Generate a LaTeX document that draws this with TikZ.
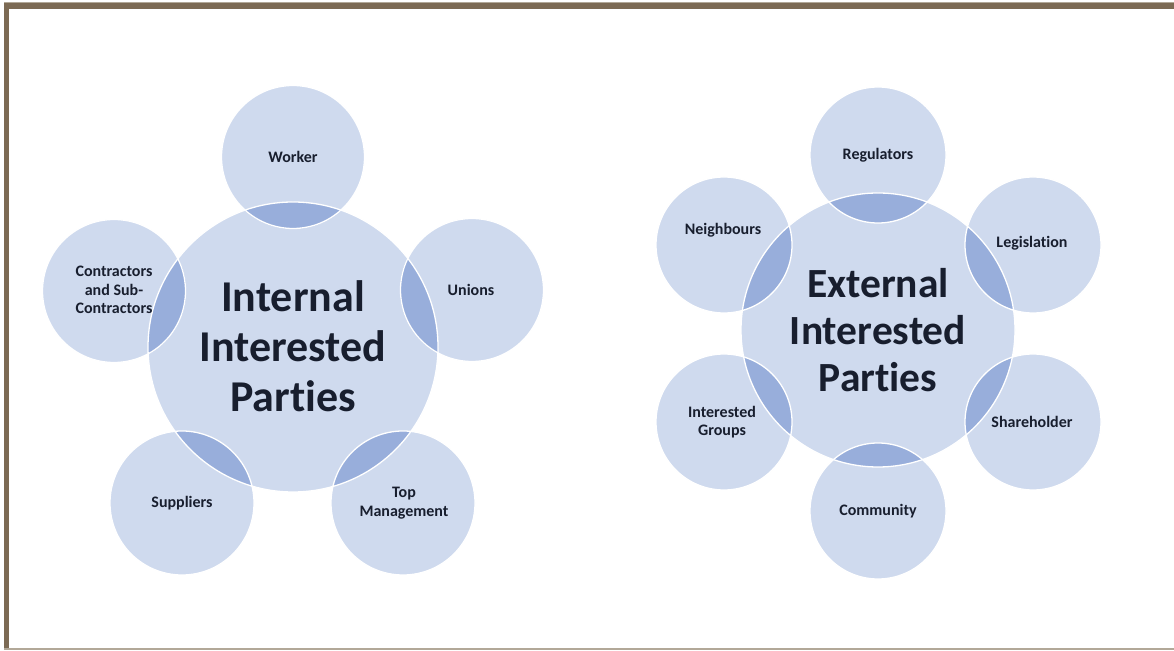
\documentclass[tikz,border=0pt]{standalone}
\usepackage{fontspec}
\setmainfont{Carlito}[Ligatures=CommonOff]
\definecolor{lightc}{RGB}{207,218,238}
\definecolor{darkc}{RGB}{152,174,219}
\definecolor{framec}{RGB}{124,106,84}
\definecolor{framel}{RGB}{178,168,152}
\definecolor{txtc}{RGB}{24,30,46}
\tikzset{
  rim/.style={draw=white, line width=1.3pt},
  small/.style={font=\bfseries\fontsize{16}{18.5}\selectfont, text=txtc, align=center, inner sep=0pt},
  bigI/.style={font=\bfseries\fontsize{44}{50}\selectfont, text=txtc, align=center, inner sep=0pt},
  bigE/.style={font=\bfseries\fontsize{41.5}{47}\selectfont, text=txtc, align=center, inner sep=0pt},
}
\begin{document}
\begin{tikzpicture}[x=1pt,y=1pt]
\useasboundingbox (0,0) rectangle (1174,650);
\fill[white] (0,0) rectangle (1174,650);
% frame
\fill[framel] (4,647) rectangle (1174,648);
\fill[framec] (4,641) rectangle (1174,647);
\fill[framec] (4,2) rectangle (9,647);
\fill[framel] (4,0) rectangle (1174,2);

% ---------- Internal ----------
\coordinate (ic) at (293,303);
\coordinate (wc) at (293,493);
\coordinate (uc) at (472,360);
\coordinate (cc) at (114,359);
\coordinate (sc) at (182,147);
\coordinate (tc) at (403,147);
\foreach \p/\r in {ic/145,wc/71.5,uc/71.5,cc/71.5,sc/72,tc/72}
  \fill[lightc] (\p) circle (\r);
\begin{scope}
  \clip (ic) circle (145);
  \foreach \p in {wc,uc,cc,sc,tc} \fill[darkc] (\p) circle (72);
\end{scope}
\foreach \p/\r in {ic/145,wc/71.5,uc/71.5,cc/71.5,sc/72,tc/72}
  \draw[rim] (\p) circle (\r);

% ---------- External ----------
\coordinate (ec) at (878,320);
\coordinate (rc) at (878,495);
\coordinate (lc) at (1033,405);
\coordinate (hc) at (1033,228);
\coordinate (mc) at (878,139);
\coordinate (gc) at (724,228);
\coordinate (nc) at (724,405);
\foreach \p/\r in {ec/137,rc/68,lc/68,hc/68,mc/68,gc/68,nc/68}
  \fill[lightc] (\p) circle (\r);
\begin{scope}
  \clip (ec) circle (137);
  \foreach \p in {rc,lc,hc,mc,gc,nc} \fill[darkc] (\p) circle (68);
\end{scope}
\foreach \p/\r in {ec/137,rc/68,lc/68,hc/68,mc/68,gc/68,nc/68}
  \draw[rim] (\p) circle (\r);

% ---------- Labels ----------
\node[bigI] (tint) at (293,304) {Internal\\Interested\\Parties};
\node[small] (tw) at (293,493) {Worker};
\node[small] (tu) at (471,360) {Unions};
\node[small] (tco) at (114,360) {Contractors\\and Sub-\\Contractors};
\node[small] (ts) at (182,147) {Suppliers};
\node[small] (tt) at (404,147) {Top\\Management};

\node[bigE] (text) at (878,320) {External\\Interested\\Parties};
\node[small] (tr) at (878,495) {Regulators};
\node[small] (tn) at (723,420) {Neighbours};
\node[small] (tl) at (1032,407) {Legislation};
\node[small] (th) at (1032,228) {Shareholder};
\node[small] (tm) at (878,139) {Community};
\node[small] (tg) at (722,228) {Interested\\Groups};
\end{tikzpicture}
\end{document}
